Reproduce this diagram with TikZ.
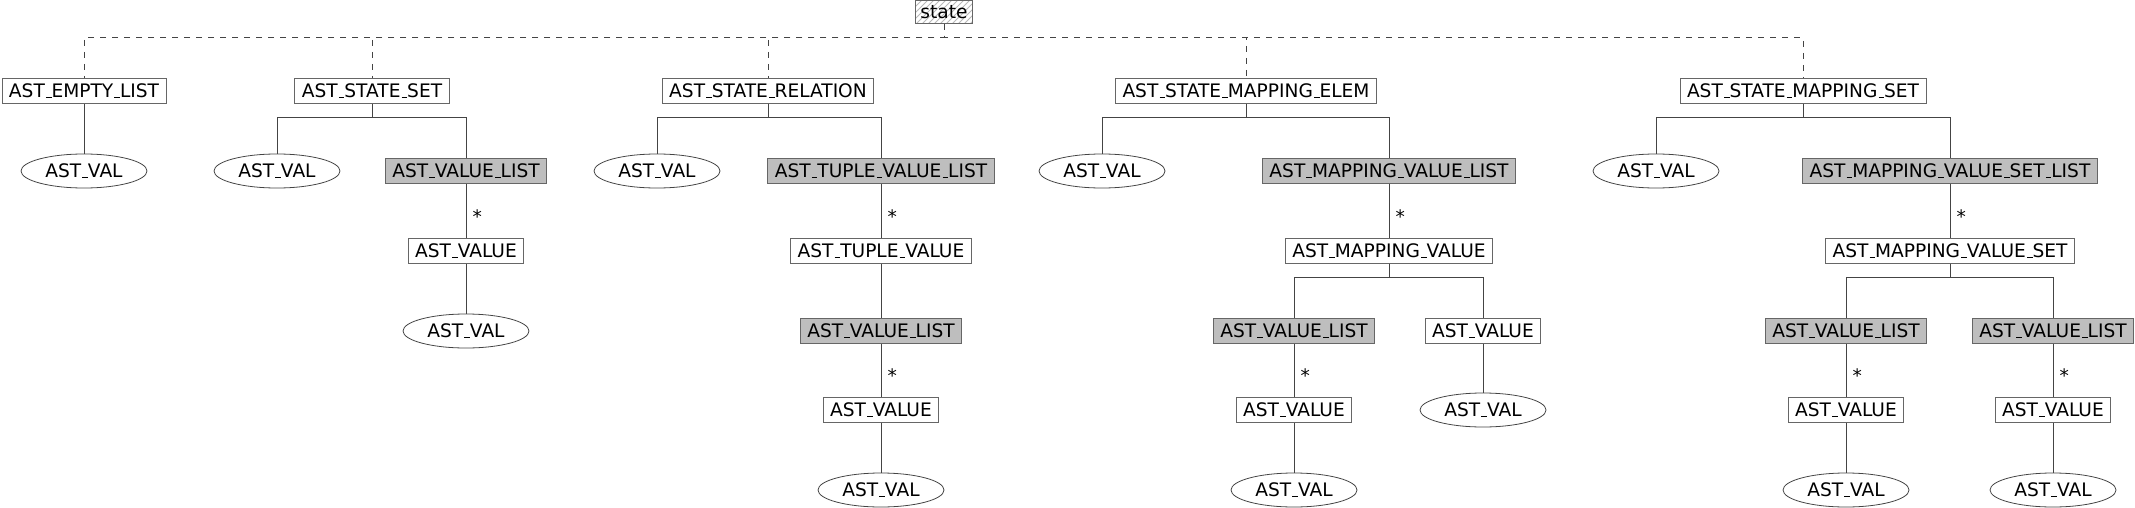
\documentclass[tikz,border=0pt]{standalone}
\usepackage{fontspec}
\setmainfont{DejaVu Sans}
\usetikzlibrary{shapes.geometric,patterns}
\renewcommand{\_}{\leavevmode\kern.06em\vbox{\hrule width.3em}}
\definecolor{boxline}{HTML}{666666}
\definecolor{edgeline}{HTML}{444444}
\definecolor{listfill}{HTML}{BEBEBE}
\tikzset{
  astbox/.style={draw=boxline,fill=white,rectangle,inner xsep=3.5pt,inner ysep=0pt,minimum height=12.5pt,font=\fontsize{9.3}{10}\selectfont},
  astlist/.style={astbox,fill=listfill},
  astval/.style={draw=edgeline,ellipse,inner sep=0pt,minimum width=63pt,minimum height=17pt,font=\fontsize{9.3}{10}\selectfont},
  rootbox/.style={astbox,pattern=north east lines,pattern color=gray!55,minimum height=11.5pt,inner xsep=2.5pt},
  edge/.style={draw=edgeline,line width=0.5pt},
  dashedge/.style={edge,dashed},
  mult/.style={right,inner sep=3pt,pos=0.6,font=\fontsize{9.3}{10}\selectfont}
}
\begin{document}
\begin{tikzpicture}[x=0.5pt,y=-0.5pt]
  \useasboundingbox (0,0) rectangle (2135,508);
  % root
  \node[rootbox] (state) at (944,12) {state};
  % state kinds
  \node[astbox] (empty) at (84,91) {AST\_EMPTY\_LIST};
  \node[astbox] (sset) at (372,91) {AST\_STATE\_SET};
  \node[astbox] (srel) at (768,91) {AST\_STATE\_RELATION};
  \node[astbox] (melem) at (1246,91) {AST\_STATE\_MAPPING\_ELEM};
  \node[astbox] (mset) at (1803,91) {AST\_STATE\_MAPPING\_SET};
  \foreach \k in {empty,sset,srel,melem,mset}{
    \draw[dashedge] (state.south) -- ++(0,14) -| (\k.north);
  }
  % AST_EMPTY_LIST
  \node[astval] (vala) at (84,171) {AST\_VAL};
  \draw[edge] (empty) -- (vala);
  % AST_STATE_SET
  \node[astval] (valb) at (277,171) {AST\_VAL};
  \node[astlist] (vlb) at (466,171) {AST\_VALUE\_LIST};
  \node[astbox] (valueb) at (466,251) {AST\_VALUE};
  \node[astval] (valbb) at (466,331) {AST\_VAL};
  \foreach \c in {valb,vlb}{
    \draw[edge] (sset.south) -- ++(0,13.5) -| (\c.north);
  }
  \draw[edge] (vlb) -- node[mult] {*} (valueb);
  \draw[edge] (valueb) -- (valbb);
  % AST_STATE_RELATION
  \node[astval] (valc) at (657,171) {AST\_VAL};
  \node[astlist] (tvl) at (881,171) {AST\_TUPLE\_VALUE\_LIST};
  \node[astbox] (tv) at (881,251) {AST\_TUPLE\_VALUE};
  \node[astlist] (vlc) at (881,331) {AST\_VALUE\_LIST};
  \node[astbox] (valuec) at (881,410) {AST\_VALUE};
  \node[astval] (valcc) at (881,490) {AST\_VAL};
  \foreach \c in {valc,tvl}{
    \draw[edge] (srel.south) -- ++(0,13.5) -| (\c.north);
  }
  \draw[edge] (tvl) -- node[mult] {*} (tv);
  \draw[edge] (tv) -- (vlc);
  \draw[edge] (vlc) -- node[mult] {*} (valuec);
  \draw[edge] (valuec) -- (valcc);
  % AST_STATE_MAPPING_ELEM
  \node[astval] (vald) at (1102,171) {AST\_VAL};
  \node[astlist] (mvl) at (1389,171) {AST\_MAPPING\_VALUE\_LIST};
  \node[astbox] (mv) at (1389,251) {AST\_MAPPING\_VALUE};
  \node[astlist] (vld) at (1294,331) {AST\_VALUE\_LIST};
  \node[astbox] (valued) at (1483,331) {AST\_VALUE};
  \node[astbox] (valuedd) at (1294,410) {AST\_VALUE};
  \node[astval] (valdd) at (1483,410) {AST\_VAL};
  \node[astval] (valddd) at (1294,490) {AST\_VAL};
  \foreach \c in {vald,mvl}{
    \draw[edge] (melem.south) -- ++(0,13.5) -| (\c.north);
  }
  \draw[edge] (mvl) -- node[mult] {*} (mv);
  \foreach \c in {vld,valued}{
    \draw[edge] (mv.south) -- ++(0,13.5) -| (\c.north);
  }
  \draw[edge] (vld) -- node[mult] {*} (valuedd);
  \draw[edge] (valuedd) -- (valddd);
  \draw[edge] (valued) -- (valdd);
  % AST_STATE_MAPPING_SET
  \node[astval] (vale) at (1656,171) {AST\_VAL};
  \node[astlist] (mvsl) at (1950,171) {AST\_MAPPING\_VALUE\_SET\_LIST};
  \node[astbox] (mvs) at (1950,251) {AST\_MAPPING\_VALUE\_SET};
  \node[astlist] (vle) at (1846,331) {AST\_VALUE\_LIST};
  \node[astlist] (vlee) at (2053,331) {AST\_VALUE\_LIST};
  \node[astbox] (valuee) at (1846,410) {AST\_VALUE};
  \node[astbox] (valueee) at (2053,410) {AST\_VALUE};
  \node[astval] (valee) at (1846,490) {AST\_VAL};
  \node[astval] (valeee) at (2053,490) {AST\_VAL};
  \foreach \c in {vale,mvsl}{
    \draw[edge] (mset.south) -- ++(0,13.5) -| (\c.north);
  }
  \draw[edge] (mvsl) -- node[mult] {*} (mvs);
  \foreach \c in {vle,vlee}{
    \draw[edge] (mvs.south) -- ++(0,13.5) -| (\c.north);
  }
  \draw[edge] (vle) -- node[mult] {*} (valuee);
  \draw[edge] (vlee) -- node[mult] {*} (valueee);
  \draw[edge] (valuee) -- (valee);
  \draw[edge] (valueee) -- (valeee);
\end{tikzpicture}
\end{document}
